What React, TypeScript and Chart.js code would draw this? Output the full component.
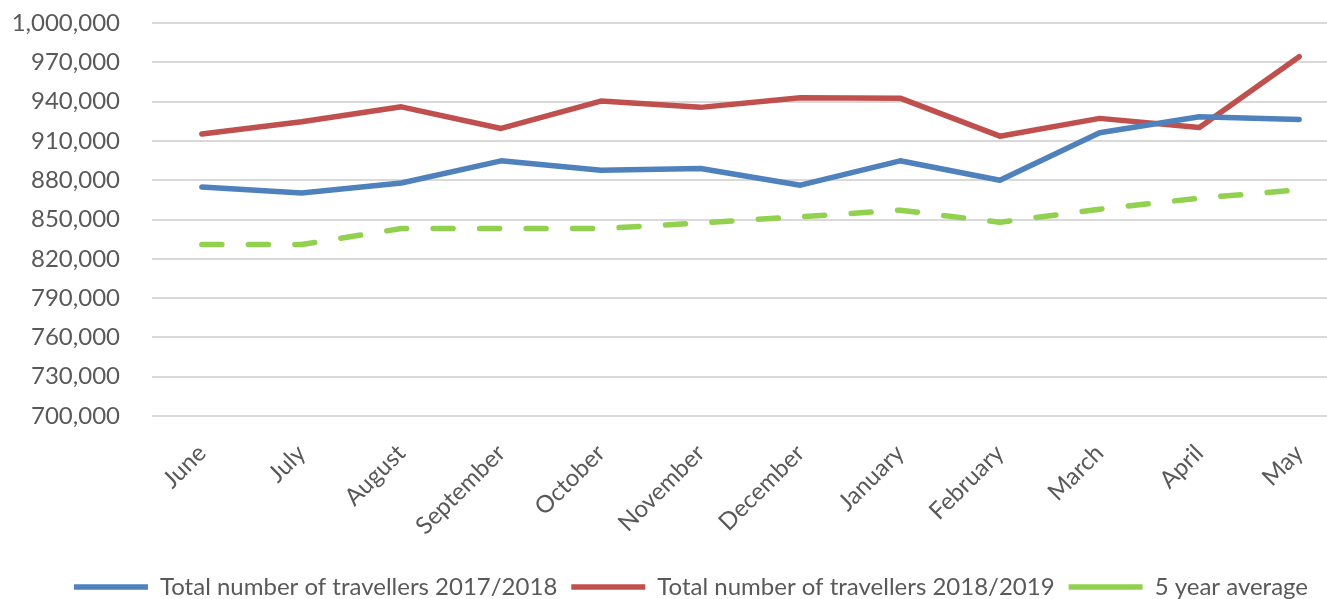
import React, { useEffect, useRef } from "react";
import { Chart, registerables } from "chart.js";

Chart.register(...registerables);

const months = [
  "June", "July", "August", "September", "October", "November",
  "December", "January", "February", "March", "April", "May",
];
const travellers20172018 = [874900, 870300, 877900, 894800, 887600, 888900, 876200, 894800, 880000, 916200, 928400, 926400];
const travellers20182019 = [915200, 924600, 936000, 919500, 940400, 935600, 942900, 942600, 913600, 927200, 920300, 974300];
const fiveYearAverage = [830900, 830900, 843100, 843100, 843100, 847400, 852100, 857100, 847900, 857900, 866300, 872700];
const seriesNames = [
  "Total number of travellers 2017/2018",
  "Total number of travellers 2018/2019",
  "5 year average",
];
const yMin = 700000;
const yMax = 1000000;
const yStep = 30000;

const FONT = "Lato";
const TEXT = "#595959";
const LEGEND_CENTER_X = 691;

const legendShift = {
  id: "legendShift",
  afterLayout(chart: any) {
    const lg = chart.legend;
    if (!lg) return;
    const dx = LEGEND_CENTER_X - (lg.left + lg.right) / 2;
    lg.left += dx;
    lg.right += dx;
  },
};

export default function App() {
  const ref = useRef<HTMLCanvasElement | null>(null);

  useEffect(() => {
    if (!ref.current) return;
    const common = {
      borderWidth: 5.5,
      borderCapStyle: "round" as const,
      borderJoinStyle: "round" as const,
      pointRadius: 0,
      tension: 0,
    };
    const chart = new Chart(ref.current, {
      type: "line",
      data: {
        labels: months,
        datasets: [
          {
            ...common,
            label: seriesNames[0],
            data: travellers20172018,
            borderColor: "#4F81BD",
            backgroundColor: "#4F81BD",
          },
          {
            ...common,
            label: seriesNames[1],
            data: travellers20182019,
            borderColor: "#C0504D",
            backgroundColor: "#C0504D",
          },
          {
            ...common,
            label: seriesNames[2],
            data: fiveYearAverage,
            borderColor: "#92D050",
            backgroundColor: "#92D050",
            borderDash: [20, 26.5],
          },
        ],
      },
      options: {
        responsive: false,
        animation: false,
        devicePixelRatio: 1,
        layout: { padding: 0 },
        font: { family: FONT },
        plugins: {
          tooltip: { enabled: false },
          title: {
            display: true,
            text: "",
            font: { family: FONT, size: 10, lineHeight: 1 },
            padding: { top: 13, bottom: 0 },
          },
          legend: {
            position: "bottom",
            labels: {
              usePointStyle: true,
              pointStyle: "line",
              pointStyleWidth: 74,
              padding: 14,
              color: TEXT,
              font: { family: FONT, size: 24 },
            },
          },
        },
        scales: {
          x: {
            offset: true,
            grid: { display: false, drawTicks: false, offset: true },
            border: { display: false },
            ticks: {
              autoSkip: false,
              maxRotation: 45,
              minRotation: 45,
              padding: 23,
              color: TEXT,
              font: { family: FONT, size: 24 },
            },
            afterFit: (scale: any) => {
              scale.height = 145;
            },
          },
          y: {
            min: yMin,
            max: yMax,
            grid: {
              color: "#D9D9D9",
              lineWidth: 2,
              drawTicks: true,
              tickLength: 32,
              tickColor: "rgba(0,0,0,0)",
            },
            border: { display: false },
            ticks: {
              stepSize: yStep,
              padding: 0,
              color: TEXT,
              font: { family: FONT, size: 24 },
              callback: (v: any) => Number(v).toLocaleString("en-US"),
            },
            afterFit: (scale: any) => {
              scale.width = 152;
            },
          },
        },
      },
      plugins: [legendShift],
    });
    return () => chart.destroy();
  }, []);

  return (
    <div
      style={{
        position: "fixed",
        left: 0,
        top: 0,
        width: 1327,
        height: 599,
        overflow: "hidden",
        background: "#ffffff",
      }}
    >
      <canvas
        ref={ref}
        width={1349}
        height={609}
        style={{ display: "block", width: 1349, height: 609 }}
      />
    </div>
  );
}
